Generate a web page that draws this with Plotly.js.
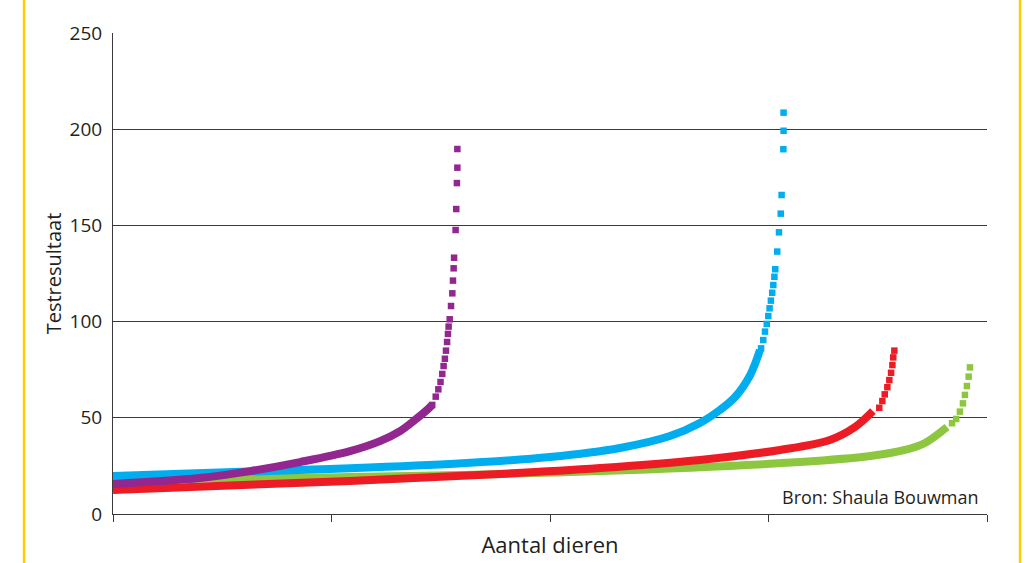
<!DOCTYPE html>
<html>
<head>
<meta charset="utf-8">
<script src="https://cdn.plot.ly/plotly-3.0.1.min.js"></script>
<style>
html,body{margin:0;padding:0;background:#fff;}
#chart{width:1030px;height:563px;}
</style>
</head>
<body>
<div id="chart"></div>
<script>
// Axis ticks (x axis has unlabelled ticks)
const xTicks = [0, 100, 200, 300, 400];
const yTicks = [0, 50, 100, 150, 200, 250];

// Purple series
const purpleLineX = [0, 39.8, 62.7, 85.6, 108.5, 122.2, 131.4, 138.2, 144.2, 146.1];
const purpleLineY = [15.6, 18.7, 22.3, 27.0, 32.7, 37.9, 43.1, 48.9, 54.6, 56.7];
const purpleDotX = [146.1, 147.7, 148.9, 149.9, 150.7, 151.3, 151.9, 152.4, 152.9, 153.3, 153.6, 154.1, 154.7, 155.3, 155.6, 155.9, 156.1, 156.8, 157.1, 157.4, 157.6, 157.6];
const purpleDotY = [56.7, 61.0, 64.8, 68.6, 72.8, 76.9, 80.7, 84.9, 89.4, 93.6, 97.4, 101.2, 108.1, 114.7, 121.3, 127.7, 133.2, 147.6, 158.5, 172.0, 180.0, 189.7];

// Blue series
const blueLineX = [0, 85.6, 154.2, 200, 232.0, 254.9, 268.6, 277.8, 284.7, 291.6, 296.1];
const blueLineY = [19.8, 22.9, 26.0, 29.6, 34.3, 40.5, 47.3, 54.1, 60.8, 72.2, 85.2];
const blueDotX = [296.6, 297.6, 298.4, 299.2, 299.9, 300.5, 301.1, 301.7, 302.2, 302.7, 303.1, 304.0, 304.8, 305.6, 306.0, 306.8, 306.9, 306.9];
const blueDotY = [86.1, 90.4, 94.8, 98.8, 102.9, 106.9, 110.9, 115.0, 119.0, 123.3, 127.2, 136.4, 146.4, 156.1, 165.8, 189.6, 199.2, 208.6];

// Red series
const redLineX = [0, 108.5, 177.1, 222.9, 268.6, 305.3, 328.1, 339.6, 347.8];
const redLineY = [12.5, 17.2, 20.8, 23.9, 28.1, 33.3, 38.5, 45.2, 53.5];
const redDotX = [350.7, 352.1, 353.2, 354.4, 355.3, 356.1, 356.7, 357.1, 357.6];
const redDotY = [55.2, 58.7, 62.2, 65.9, 69.6, 73.4, 77.4, 81.4, 84.9];

// Green series
const greenLineX = [0, 108.5, 222.9, 314.4, 346.5, 362.5, 371.6, 381.7];
const greenLineY = [18.2, 19.2, 22.3, 27.0, 30.1, 33.3, 36.9, 45.2];
const greenDotX = [384.0, 385.9, 387.6, 389.0, 389.9, 390.8, 391.6, 392.2];
const greenDotY = [47.2, 49.4, 53.2, 57.5, 61.9, 66.5, 71.4, 76.2];

const COL = {purple:'#92278F', blue:'#00AEEF', red:'#ED1C24', green:'#8DC63F'};

function lineTrace(x, y, c){
  return {x:x, y:y, type:'scatter', mode:'lines', line:{color:c, width:8, shape:'spline'}, hoverinfo:'skip', showlegend:false};
}
function dotTrace(x, y, c){
  return {x:x, y:y, type:'scatter', mode:'markers', marker:{color:c, size:6.5, symbol:'square', line:{width:0}}, hoverinfo:'skip', showlegend:false};
}

const data = [
  lineTrace(greenLineX, greenLineY, COL.green), dotTrace(greenDotX, greenDotY, COL.green),
  lineTrace(redLineX, redLineY, COL.red), dotTrace(redDotX, redDotY, COL.red),
  lineTrace(blueLineX, blueLineY, COL.blue), dotTrace(blueDotX, blueDotY, COL.blue),
  lineTrace(purpleLineX, purpleLineY, COL.purple), dotTrace(purpleDotX, purpleDotY, COL.purple)
];

const FONT = '"Open Sans", "Noto Sans", sans-serif';

const layout = {
  width:1030, height:563,
  margin:{l:113, r:43, t:33, b:49},
  paper_bgcolor:'#ffffff', plot_bgcolor:'#ffffff',
  font:{family:FONT, color:'#231F20'},
  xaxis:{
    range:[0,400], tickvals:xTicks, showticklabels:false,
    ticks:'outside', ticklen:7, tickwidth:1, tickcolor:'#3a3a3a',
    showgrid:false, zeroline:false, showline:true, linecolor:'#3a3a3a', linewidth:1,
    title:{text:'Aantal dieren', font:{size:22, family:FONT, color:'#231F20'}, standoff:16},
    fixedrange:true
  },
  yaxis:{
    range:[0,250], tickvals:yTicks, ticktext:yTicks.map(String),
    ticks:'', showgrid:true, gridcolor:'#3a3a3a', gridwidth:1,
    zeroline:false, showline:true, linecolor:'#3a3a3a', linewidth:1,
    tickfont:{size:19, family:FONT, color:'#231F20'}, ticklabelstandoff:6,
    title:{text:'Testresultaat', font:{size:20, family:FONT, color:'#231F20'}, standoff:2},
    fixedrange:true
  },
  shapes:[
    {type:'line', xref:'paper', yref:'paper', x0:-0.1018, x1:-0.1018, y0:-0.2, y1:1.2, line:{color:'#FFCC00', width:2.5}},
    {type:'line', xref:'paper', yref:'paper', x0:1.0378, x1:1.0378, y0:-0.2, y1:1.2, line:{color:'#FFCC00', width:2.5}}
  ],
  annotations:[
    {text:'Bron: Shaula Bouwman', xref:'paper', yref:'paper', x:0.993, y:0.035, xanchor:'right', yanchor:'middle', showarrow:false, font:{size:18, family:FONT, color:'#231F20'}}
  ]
};

Plotly.newPlot('chart', data, layout, {staticPlot:true, displayModeBar:false});
</script>
</body>
</html>
